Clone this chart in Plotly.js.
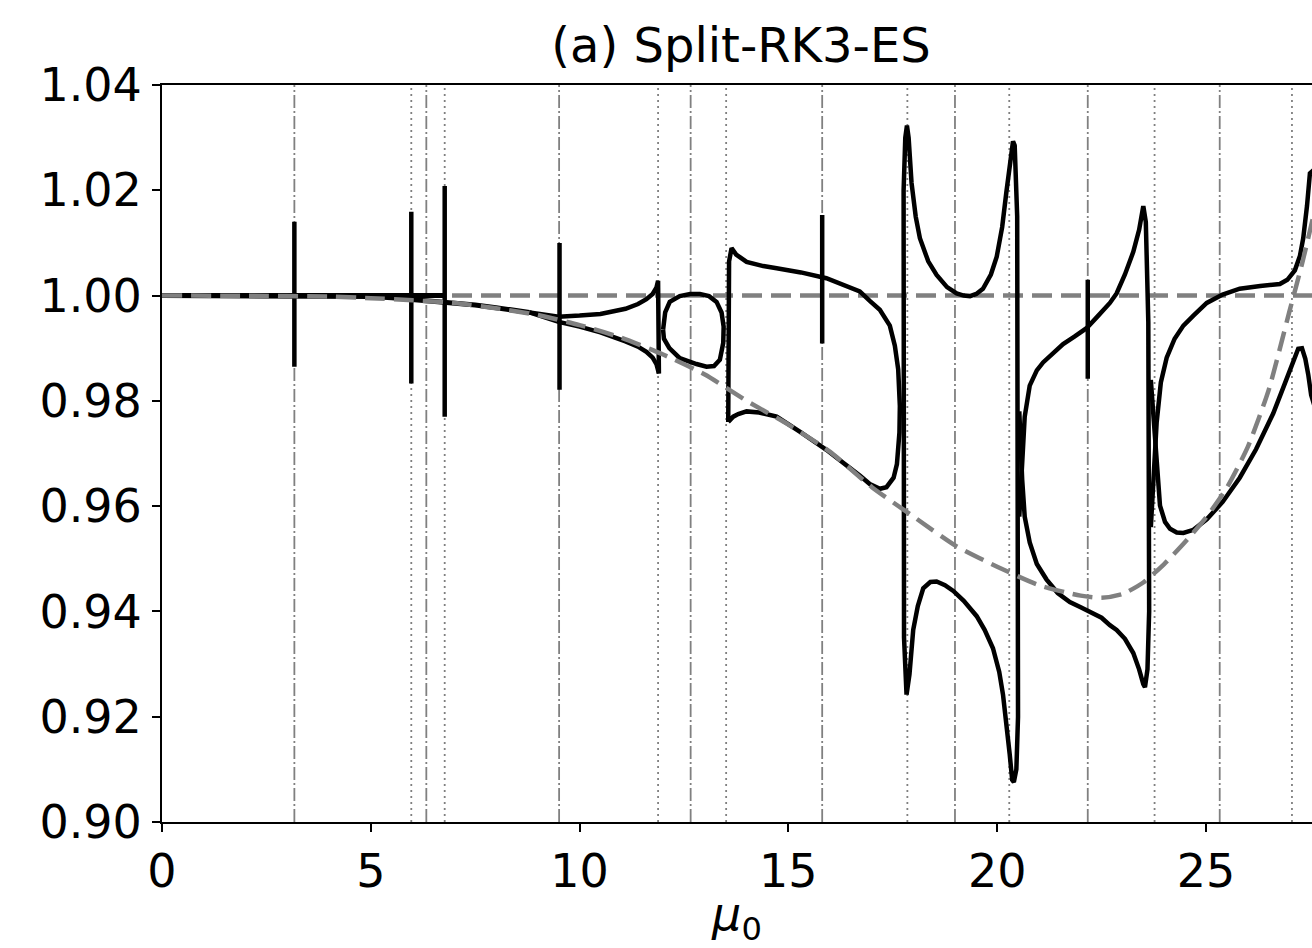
<!DOCTYPE html>
<html>
<head>
<meta charset="utf-8">
<script src="https://cdn.plot.ly/plotly-3.0.1.min.js"></script>
<style>html,body{margin:0;padding:0;background:#fff;}#chart{width:1312px;height:948px;}</style>
</head>
<body>
<div id="chart"></div>
<script>
// ---------- data ----------
const xTicks = [0, 5, 10, 15, 20, 25];
const yTicks = [0.90, 0.92, 0.94, 0.96, 0.98, 1.00, 1.02, 1.04];

// vertical reference lines (mu0 positions)
const refDashDotX = [3.17, 6.33, 9.51, 12.66, 15.81, 18.99, 22.17, 25.33];
const refDottedX  = [5.97, 6.77, 11.88, 13.51, 17.85, 20.29, 23.77, 27.06];

// short vertical black spikes
const spikeX    = [3.17, 5.97, 6.77, 9.52, 15.81, 22.17];
const spikeLow  = [0.9865, 0.9833, 0.9770, 0.9821, 0.9909, 0.9842];
const spikeHigh = [1.0140, 1.0159, 1.0208, 1.0100, 1.0153, 1.0030];

// unit-modulus branch (black) at small mu0
const unitX = [0, 6.77];
const unitY = [1.0, 1.0];

// main decaying branch before first split
const baseX = [0, 1, 2, 3, 4, 4.5, 5, 5.5, 5.97, 6.3, 6.77, 7.0, 7.5, 8.0, 8.5, 8.8];
const baseY = [1.0, 1.0, 0.99998, 0.99995, 0.9999, 0.99985, 0.9998, 0.9996, 0.9993, 0.9991, 0.9989, 0.9987, 0.9982, 0.9977, 0.9971, 0.9968];

// split near 9.5 - 11.9
const split1UpX = [8.8, 9.5, 10.0, 10.5, 11.1, 11.4, 11.6, 11.75, 11.84, 11.88, 11.90];
const split1UpY = [0.9968, 0.9960, 0.9962, 0.9965, 0.9975, 0.9984, 0.9993, 1.0003, 1.0015, 1.0028, 0.9852];
const split1LoX = [8.8, 9.5, 10.0, 10.5, 11.1, 11.4, 11.6, 11.75, 11.84, 11.90];
const split1LoY = [0.9968, 0.9950, 0.9941, 0.9930, 0.9913, 0.9903, 0.9893, 0.9882, 0.9870, 0.9852];

// oval between 12 and 13.5
const ovalX = [12.00, 12.05, 12.16, 12.40, 12.65, 12.88, 13.10, 13.28, 13.40, 13.45, 13.44, 13.36, 13.22, 13.04, 12.80, 12.40, 12.15, 12.02, 12.00];
const ovalY = [0.9935, 0.9968, 0.9988, 0.9999, 1.0003, 1.0003, 0.9999, 0.9988, 0.9968, 0.9941, 0.9910, 0.9878, 0.9866, 0.9865, 0.9870, 0.9881, 0.9900, 0.9918, 0.9935];

// loop between 13.5 and 17.7
const loop2X = [13.56, 13.58, 13.64, 13.75, 14.0, 14.4, 14.72, 15.3, 15.91, 16.4, 16.71, 16.95, 17.19, 17.43, 17.55, 17.63, 17.67, 17.66, 17.60, 17.52, 17.35, 17.19, 16.95, 16.71, 16.3, 15.91, 15.3, 14.72, 14.3, 14.0, 13.8, 13.68, 13.56];
const loop2Y = [0.9760, 1.0065, 1.0090, 1.0078, 1.0064, 1.0056, 1.0052, 1.0044, 1.0033, 1.0018, 1.0008, 0.9990, 0.9973, 0.9943, 0.9905, 0.9860, 0.9790, 0.9740, 0.9680, 0.9654, 0.9636, 0.9633, 0.9642, 0.9658, 0.9683, 0.9707, 0.9740, 0.9770, 0.9778, 0.9780, 0.9775, 0.9770, 0.9760];

// loop between 17.8 and 20.5 (upper U and lower cap)
const loop3X = [17.83, 17.77, 17.76, 17.80, 17.84, 17.88, 17.95, 18.05, 18.15, 18.35, 18.55, 18.8, 19.03, 19.2, 19.35, 19.5, 19.66, 19.85, 19.99, 20.12, 20.22, 20.30, 20.38, 20.42, 20.48, 20.50, 20.46, 20.40, 20.36, 20.30, 20.22, 20.14, 20.05, 19.90, 19.7, 19.51, 19.2, 18.95, 18.75, 18.55, 18.4, 18.23, 18.1, 17.99, 17.90, 17.83];
const loop3Y = [0.9242, 0.9350, 1.0200, 1.0300, 1.0323, 1.0300, 1.0214, 1.0150, 1.0109, 1.0065, 1.0039, 1.0016, 1.0004, 1.0000, 0.9999, 1.0003, 1.0013, 1.0040, 1.0074, 1.0130, 1.0196, 1.0250, 1.0293, 1.0285, 1.0150, 0.9200, 0.9100, 0.9076, 0.9080, 0.9129, 0.9190, 0.9242, 0.9285, 0.9330, 0.9365, 0.9391, 0.9420, 0.9439, 0.9450, 0.9457, 0.9456, 0.9444, 0.9410, 0.9365, 0.9280, 0.9242];

// loop between 20.5 and 23.6 (crossing at the left end)
const loop4X = [20.53, 20.60, 20.66, 20.78, 20.95, 21.10, 21.35, 21.58, 21.85, 22.14, 22.4, 22.70, 22.86, 23.06, 23.26, 23.40, 23.50, 23.56, 23.62, 23.64, 23.60, 23.54, 23.50, 23.40, 23.26, 23.06, 22.86, 22.70, 22.5, 22.22, 22.0, 21.74, 21.45, 21.18, 20.95, 20.78, 20.66, 20.60, 20.53];
const loop4Y = [0.9580, 0.9700, 0.9770, 0.9829, 0.9858, 0.9873, 0.9892, 0.9908, 0.9922, 0.9938, 0.9960, 0.9986, 1.0004, 1.0040, 1.0083, 1.0125, 1.0170, 1.0140, 0.9950, 0.9400, 0.9290, 0.9256, 0.9262, 0.9290, 0.9321, 0.9348, 0.9365, 0.9374, 0.9388, 0.9400, 0.9408, 0.9418, 0.9435, 0.9461, 0.9490, 0.9531, 0.9580, 0.9650, 0.9780];

// two branches after 23.7
const branchAX = [23.68, 23.78, 23.82, 23.92, 24.06, 24.25, 24.46, 24.7, 25.02, 25.4, 25.81, 26.3, 26.77, 26.95, 27.13, 27.25, 27.33, 27.42, 27.49, 27.6];
const branchAY = [0.9560, 0.9689, 0.9759, 0.9835, 0.9882, 0.9918, 0.9943, 0.9962, 0.9986, 1.0002, 1.0013, 1.0018, 1.0022, 1.0030, 1.0048, 1.0075, 1.0109, 1.0170, 1.0232, 1.0240];
const branchBX = [23.68, 23.78, 23.90, 24.02, 24.14, 24.30, 24.46, 24.7, 25.02, 25.4, 25.81, 26.2, 26.61, 26.9, 27.10, 27.21, 27.30, 27.38, 27.45, 27.52, 27.6];
const branchBY = [0.9840, 0.9720, 0.9601, 0.9570, 0.9557, 0.9550, 0.9549, 0.9555, 0.9575, 0.9608, 0.9654, 0.9708, 0.9776, 0.9835, 0.9878, 0.9899, 0.9900, 0.9880, 0.9850, 0.9811, 0.9790];

// grey dashed reference curves
const greyFlatX = [0, 27.6];
const greyFlatY = [1.0, 1.0];
const greyCurveX = [0, 2, 4, 5, 6, 7, 8, 9, 10, 11, 12, 13, 14, 15, 16, 17, 18, 19, 20, 21, 22, 22.5, 23, 23.5, 24, 24.5, 25, 25.5, 26, 26.5, 27, 27.3, 27.6];
const greyCurveY = [1.0, 0.99996, 0.9998, 0.9995, 0.9991, 0.9986, 0.9976, 0.9963, 0.9944, 0.9920, 0.9888, 0.9850, 0.9800, 0.9755, 0.9703, 0.9636, 0.9580, 0.9525, 0.9485, 0.9450, 0.9430, 0.9426, 0.9433, 0.9455, 0.9490, 0.9532, 0.9578, 0.9635, 0.9712, 0.9820, 0.9970, 1.0060, 1.0160];

// ---------- build traces ----------
const BLACK = '#000000';
const GREY = '#808080';
const blackLine = (x, y, w) => ({x: x, y: y, type: 'scatter', mode: 'lines', line: {color: BLACK, width: w || 4.5}, hoverinfo: 'skip', showlegend: false});

const spX = [], spY = [];
spikeX.forEach((v, i) => { spX.push(v, v, null); spY.push(spikeLow[i], spikeHigh[i], null); });

const ddX = [], ddY = [];
refDashDotX.forEach(v => { ddX.push(v, v, null); ddY.push(0.90, 1.04, null); });
const dtX = [], dtY = [];
refDottedX.forEach(v => { dtX.push(v, v, null); dtY.push(0.90, 1.04, null); });

const traces = [
  {x: ddX, y: ddY, type: 'scatter', mode: 'lines', line: {color: GREY, width: 1.8, dash: '13px,3px,2px,3px'}, hoverinfo: 'skip', showlegend: false},
  {x: dtX, y: dtY, type: 'scatter', mode: 'lines', line: {color: GREY, width: 1.8, dash: '2px,4px'}, hoverinfo: 'skip', showlegend: false},
  {x: greyFlatX, y: greyFlatY, type: 'scatter', mode: 'lines', line: {color: GREY, width: 4.5, dash: '20px,9px'}, hoverinfo: 'skip', showlegend: false},
  blackLine(unitX, unitY, 5),
  blackLine(baseX, baseY, 5),
  blackLine(split1UpX, split1UpY),
  blackLine(split1LoX, split1LoY),
  blackLine(ovalX, ovalY),
  blackLine(loop2X, loop2Y),
  blackLine(loop3X, loop3Y),
  blackLine(loop4X, loop4Y),
  blackLine(branchAX, branchAY),
  blackLine(branchBX, branchBY),
  blackLine(spX, spY, 4.5),
  {x: greyCurveX, y: greyCurveY, type: 'scatter', mode: 'lines', line: {color: GREY, width: 4.5, dash: '20px,9px', shape: 'spline', smoothing: 0.6}, hoverinfo: 'skip', showlegend: false}
];

const FONT = 'DejaVu Sans, Liberation Sans, sans-serif';
const layout = {
  width: 1312, height: 948,
  margin: {l: 162, r: 0, t: 85, b: 126, pad: 0},
  paper_bgcolor: '#ffffff', plot_bgcolor: '#ffffff',
  font: {family: FONT, color: '#000', size: 46},
  title: {text: '(a) Split-RK3-ES', font: {family: FONT, size: 48, color: '#000'}, x: 0.5648, xref: 'container', xanchor: 'center', y: 0.952, yref: 'container', yanchor: 'middle'},
  xaxis: {
    range: [0, 27.54], tickvals: xTicks, ticktext: xTicks.map(String),
    ticks: 'outside', ticklen: 8, tickwidth: 2, tickcolor: '#000',
    showline: true, linecolor: '#000', linewidth: 2, mirror: true,
    showgrid: false, zeroline: false,
    tickfont: {family: FONT, size: 46, color: '#000'},
    title: {text: '<i>μ</i><sub>0</sub>', font: {family: FONT, size: 46, color: '#000'}, standoff: 4}
  },
  yaxis: {
    range: [0.90, 1.04], tickvals: yTicks, ticktext: yTicks.map(v => v.toFixed(2)),
    ticks: 'outside', ticklen: 8, tickwidth: 2, tickcolor: '#000',
    showline: true, linecolor: '#000', linewidth: 2, mirror: false,
    showgrid: false, zeroline: false,
    tickfont: {family: FONT, size: 46, color: '#000'},
    ticklabelstandoff: 1
  }
};

Plotly.newPlot('chart', traces, layout, {staticPlot: true, displayModeBar: false});
</script>
</body>
</html>
